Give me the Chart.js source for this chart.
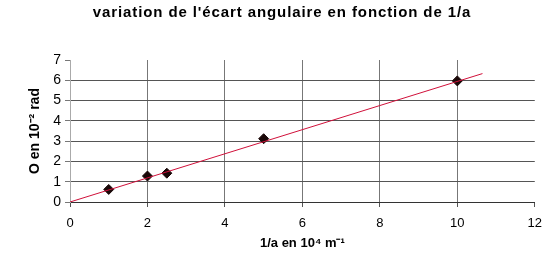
<!DOCTYPE html>
<html>
<head>
<meta charset="utf-8">
<script src="https://cdn.jsdelivr.net/npm/chart.js@4"></script>
<style>
html,body{margin:0;padding:0;background:#fff;}
#wrap{width:551px;height:261px;position:relative;}
</style>
</head>
<body>
<div id="wrap"><canvas id="c" width="551" height="261"></canvas></div>
<script>
const chartTitle = "variation de l'écart angulaire en fonction de 1/a";
const xTitle = "1/a en 10\u2074 m\u207B\u00B9";
const yTitle = "O en 10\u207B\u00B2 rad";
const invA = [1, 2, 2.5, 5, 10];
const theta = [0.62, 1.28, 1.42, 3.12, 5.97];
const trendX = [0, 10.65];
const trendY = [0, 6.33];
const xTicks = [0, 2, 4, 6, 8, 10, 12];
const yTicks = [0, 1, 2, 3, 4, 5, 6, 7];

const FONT = "'Liberation Sans', Arial, sans-serif";
Chart.defaults.font.family = FONT;
Chart.defaults.color = '#000';

const titlePlugin = {
  id: 'pageTitle',
  afterDraw(chart) {
    const ctx = chart.ctx;
    ctx.save();
    ctx.font = 'bold 15px ' + FONT;
    if ('letterSpacing' in ctx) ctx.letterSpacing = '0.9px';
    ctx.fillStyle = '#000';
    ctx.textAlign = 'center';
    ctx.textBaseline = 'alphabetic';
    ctx.fillText(chartTitle, 282, 17);
    ctx.restore();
  }
};

new Chart(document.getElementById('c'), {
  type: 'scatter',
  plugins: [titlePlugin],
  data: {
    datasets: [
      {
        label: 'trend',
        data: trendX.map((x, i) => ({x, y: trendY[i]})),
        showLine: true,
        borderColor: '#d0103a',
        borderWidth: 1,
        pointRadius: 0,
        fill: false
      },
      {
        label: 'mesures',
        data: invA.map((x, i) => ({x, y: theta[i]})),
        pointStyle: 'rectRot',
        pointRadius: 5,
        backgroundColor: '#1a0808',
        borderColor: '#1a0808',
        borderWidth: 1
      }
    ]
  },
  options: {
    responsive: false,
    animation: false,
    devicePixelRatio: 1,
    layout: { padding: { left: 0, right: 16, top: 60, bottom: 0 } },
    plugins: {
      legend: { display: false },
      tooltip: { enabled: false },
      title: { display: false }
    },
    scales: {
      x: {
        type: 'linear',
        min: 0, max: 12,
        afterBuildTicks: s => { s.ticks = xTicks.map(v => ({value: v})); },
        afterFit: s => { s.height = 59; },
        ticks: { font: { size: 13 }, padding: 9, color: '#000', maxRotation: 0 },
        grid: {
          color: c => (c.tick && (c.tick.value === 0 || c.tick.value === 12)) ? 'rgba(0,0,0,0)' : '#777',
          tickColor: '#555',
          tickLength: 5,
          lineWidth: 1
        },
        border: { color: '#333', width: 1 },
        title: {
          display: true,
          text: xTitle,
          font: { size: 13, weight: 'bold' },
          color: '#000',
          padding: { top: 10, bottom: 10 }
        }
      },
      y: {
        type: 'linear',
        min: 0, max: 7,
        afterBuildTicks: s => { s.ticks = yTicks.map(v => ({value: v})); },
        afterFit: s => { s.width = 70; },
        ticks: { font: { size: 14 }, padding: 4, color: '#000' },
        grid: {
          color: c => (c.tick && (c.tick.value === 7 || c.tick.value === 0)) ? 'rgba(0,0,0,0)' : '#555',
          tickColor: '#777',
          tickLength: 5,
          lineWidth: 1
        },
        border: { color: '#aaa', width: 1 },
        title: {
          display: true,
          text: yTitle,
          font: { size: 14, weight: 'bold' },
          color: '#000',
          padding: { top: 27, bottom: 27 }
        }
      }
    }
  }
});
</script>
</body>
</html>
